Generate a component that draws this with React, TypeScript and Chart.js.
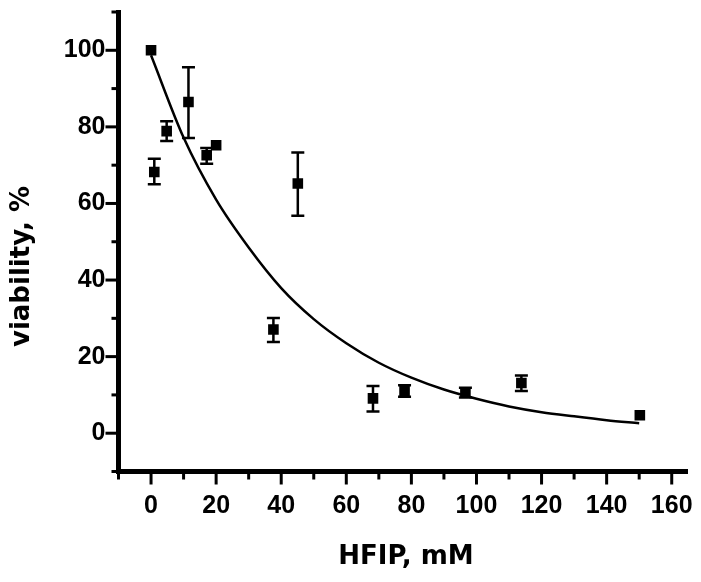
import React, { useEffect, useRef } from "react";
import { Chart, registerables } from "chart.js";

Chart.register(...registerables);

// HFIP concentration (mM) of measured points
const doseX = [0, 1.0, 4.8, 11.5, 17.1, 20.0, 37.6, 45.1, 68.2, 77.9, 96.6, 113.8, 150.2];
// viability (%)
const viability = [100, 68.2, 78.9, 86.5, 72.6, 75.2, 27.1, 65.2, 9.1, 11.0, 10.6, 13.1, 4.7];
// error bar ends (%)
const errLow = [null, 65.0, 76.3, 77.1, 70.4, null, 23.8, 56.8, 5.7, 9.5, 9.3, 11.0, null];
const errHigh = [null, 71.7, 81.5, 95.6, 74.5, null, 30.1, 73.3, 12.3, 12.5, 11.9, 15.1, null];

// fitted decay curve
const fitX = [0, 10, 20, 30, 40, 50, 60, 70, 80, 90, 100, 110, 120, 130, 140, 150];
const fitY = [98.7, 77.2, 61.0, 48.5, 37.9, 29.8, 23.5, 18.4, 14.5, 11.4, 9.0, 7.0, 5.5, 4.4, 3.4, 2.6];

const xTitle = "HFIP, mM";
const yTitle = "viability, %";

const W = 701;
const H = 582;
const AREA = { left: 118.5, right: 688, top: 12, bottom: 471.5 };
const TICK_FONT = { family: "'Liberation Sans', Arial, sans-serif", size: 25, weight: "bold" as const };
const TITLE_FONT = "bold 26px 'DejaVu Sans', sans-serif";

export default function App() {
  const ref = useRef<HTMLCanvasElement>(null);

  useEffect(() => {
    if (!ref.current) return;

    const errorBars = {
      id: "errorBars",
      afterDatasetsDraw(chart: any) {
        const ctx = chart.ctx;
        const xs = chart.scales.x;
        const ys = chart.scales.y;
        ctx.save();
        ctx.strokeStyle = "#000";
        ctx.lineWidth = 2.5;
        for (let i = 0; i < doseX.length; i++) {
          const lo = errLow[i];
          const hi = errHigh[i];
          if (lo == null || hi == null) continue;
          const px = xs.getPixelForValue(doseX[i]);
          const pLo = ys.getPixelForValue(lo);
          const pHi = ys.getPixelForValue(hi);
          ctx.beginPath();
          ctx.moveTo(px, pLo);
          ctx.lineTo(px, pHi);
          ctx.moveTo(px - 6.5, pLo);
          ctx.lineTo(px + 6.5, pLo);
          ctx.moveTo(px - 6.5, pHi);
          ctx.lineTo(px + 6.5, pHi);
          ctx.stroke();
        }
        ctx.restore();
      },
    };

    const axesDecor = {
      id: "axesDecor",
      afterDraw(chart: any) {
        const ctx = chart.ctx;
        const { left, right, top, bottom } = chart.chartArea;
        const xs = chart.scales.x;
        const ys = chart.scales.y;
        ctx.save();
        ctx.strokeStyle = "#000";
        ctx.fillStyle = "#000";
        ctx.lineWidth = 5;
        ctx.lineCap = "butt";
        ctx.lineJoin = "miter";
        ctx.beginPath();
        ctx.moveTo(left, top - 2);
        ctx.lineTo(left, bottom);
        ctx.lineTo(right, bottom);
        ctx.stroke();

        ctx.lineWidth = 3;
        for (const t of xs.ticks) {
          const v = t.value;
          if (Math.abs(v % 10) > 1e-9) continue;
          const px = xs.getPixelForValue(v);
          const len = Math.abs(v % 20) < 1e-9 ? 13 : 8;
          ctx.beginPath();
          ctx.moveTo(px, bottom);
          ctx.lineTo(px, bottom + len);
          ctx.stroke();
        }
        for (const t of ys.ticks) {
          const v = t.value;
          if (Math.abs(v % 10) > 1e-9) continue;
          const py = ys.getPixelForValue(v);
          const len = Math.abs(v % 20) < 1e-9 ? 13 : 7;
          ctx.beginPath();
          ctx.moveTo(left, py);
          ctx.lineTo(left - len, py);
          ctx.stroke();
        }

        ctx.font = TITLE_FONT;
        ctx.textAlign = "center";
        ctx.textBaseline = "alphabetic";
        ctx.fillText(xTitle, 406, 564);
        ctx.translate(29, 266.5);
        ctx.rotate(-Math.PI / 2);
        ctx.fillText(yTitle, 0, 0);
        ctx.restore();
      },
    };

    const labelEvery20 = (lo: number, hi: number) => (value: any) => {
      const v = Number(value);
      return Math.abs(v % 20) < 1e-9 && v >= lo && v <= hi ? String(v) : "";
    };

    const chart = new Chart(ref.current, {
      type: "scatter",
      data: {
        datasets: [
          {
            label: "fit",
            data: fitX.map((x, i) => ({ x, y: fitY[i] })),
            showLine: true,
            borderColor: "#000",
            borderWidth: 2.5,
            pointRadius: 0,
            cubicInterpolationMode: "monotone",
            fill: false,
          } as any,
          {
            label: "viability",
            data: doseX.map((x, i) => ({ x, y: viability[i] })),
            showLine: false,
            pointStyle: "rect",
            pointRadius: 7.5,
            pointHoverRadius: 7.5,
            backgroundColor: "#000",
            borderColor: "#000",
            borderWidth: 0,
          } as any,
        ],
      },
      options: {
        animation: false,
        responsive: false,
        maintainAspectRatio: false,
        layout: { padding: { top: AREA.top, right: W - AREA.right, left: 0, bottom: 0 } },
        plugins: {
          legend: { display: false },
          tooltip: { enabled: false },
          title: { display: false },
        },
        scales: {
          x: {
            type: "linear",
            min: -10,
            max: 165,
            afterFit: (s: any) => {
              s.height = H - AREA.bottom;
              s.paddingLeft = 0;
              s.paddingRight = 0;
            },
            grid: { display: false, drawTicks: false },
            border: { display: false },
            ticks: {
              stepSize: 10,
              includeBounds: false,
              autoSkip: false,
              maxRotation: 0,
              minRotation: 0,
              padding: 20,
              color: "#000",
              font: TICK_FONT,
              callback: labelEvery20(0, 160),
            },
          },
          y: {
            type: "linear",
            min: -10,
            max: 110,
            afterFit: (s: any) => {
              s.width = AREA.left;
              s.paddingTop = 0;
              s.paddingBottom = 0;
            },
            grid: { display: false, drawTicks: false },
            border: { display: false },
            ticks: {
              stepSize: 10,
              includeBounds: false,
              autoSkip: false,
              padding: 13,
              color: "#000",
              font: TICK_FONT,
              callback: labelEvery20(0, 100),
            },
          },
        },
      },
      plugins: [errorBars, axesDecor],
    });

    return () => chart.destroy();
  }, []);

  return (
    <div style={{ position: "fixed", left: 0, top: 0, width: W, height: H, background: "#fff" }}>
      <canvas ref={ref} width={W} height={H} style={{ width: W, height: H, display: "block" }} />
    </div>
  );
}
